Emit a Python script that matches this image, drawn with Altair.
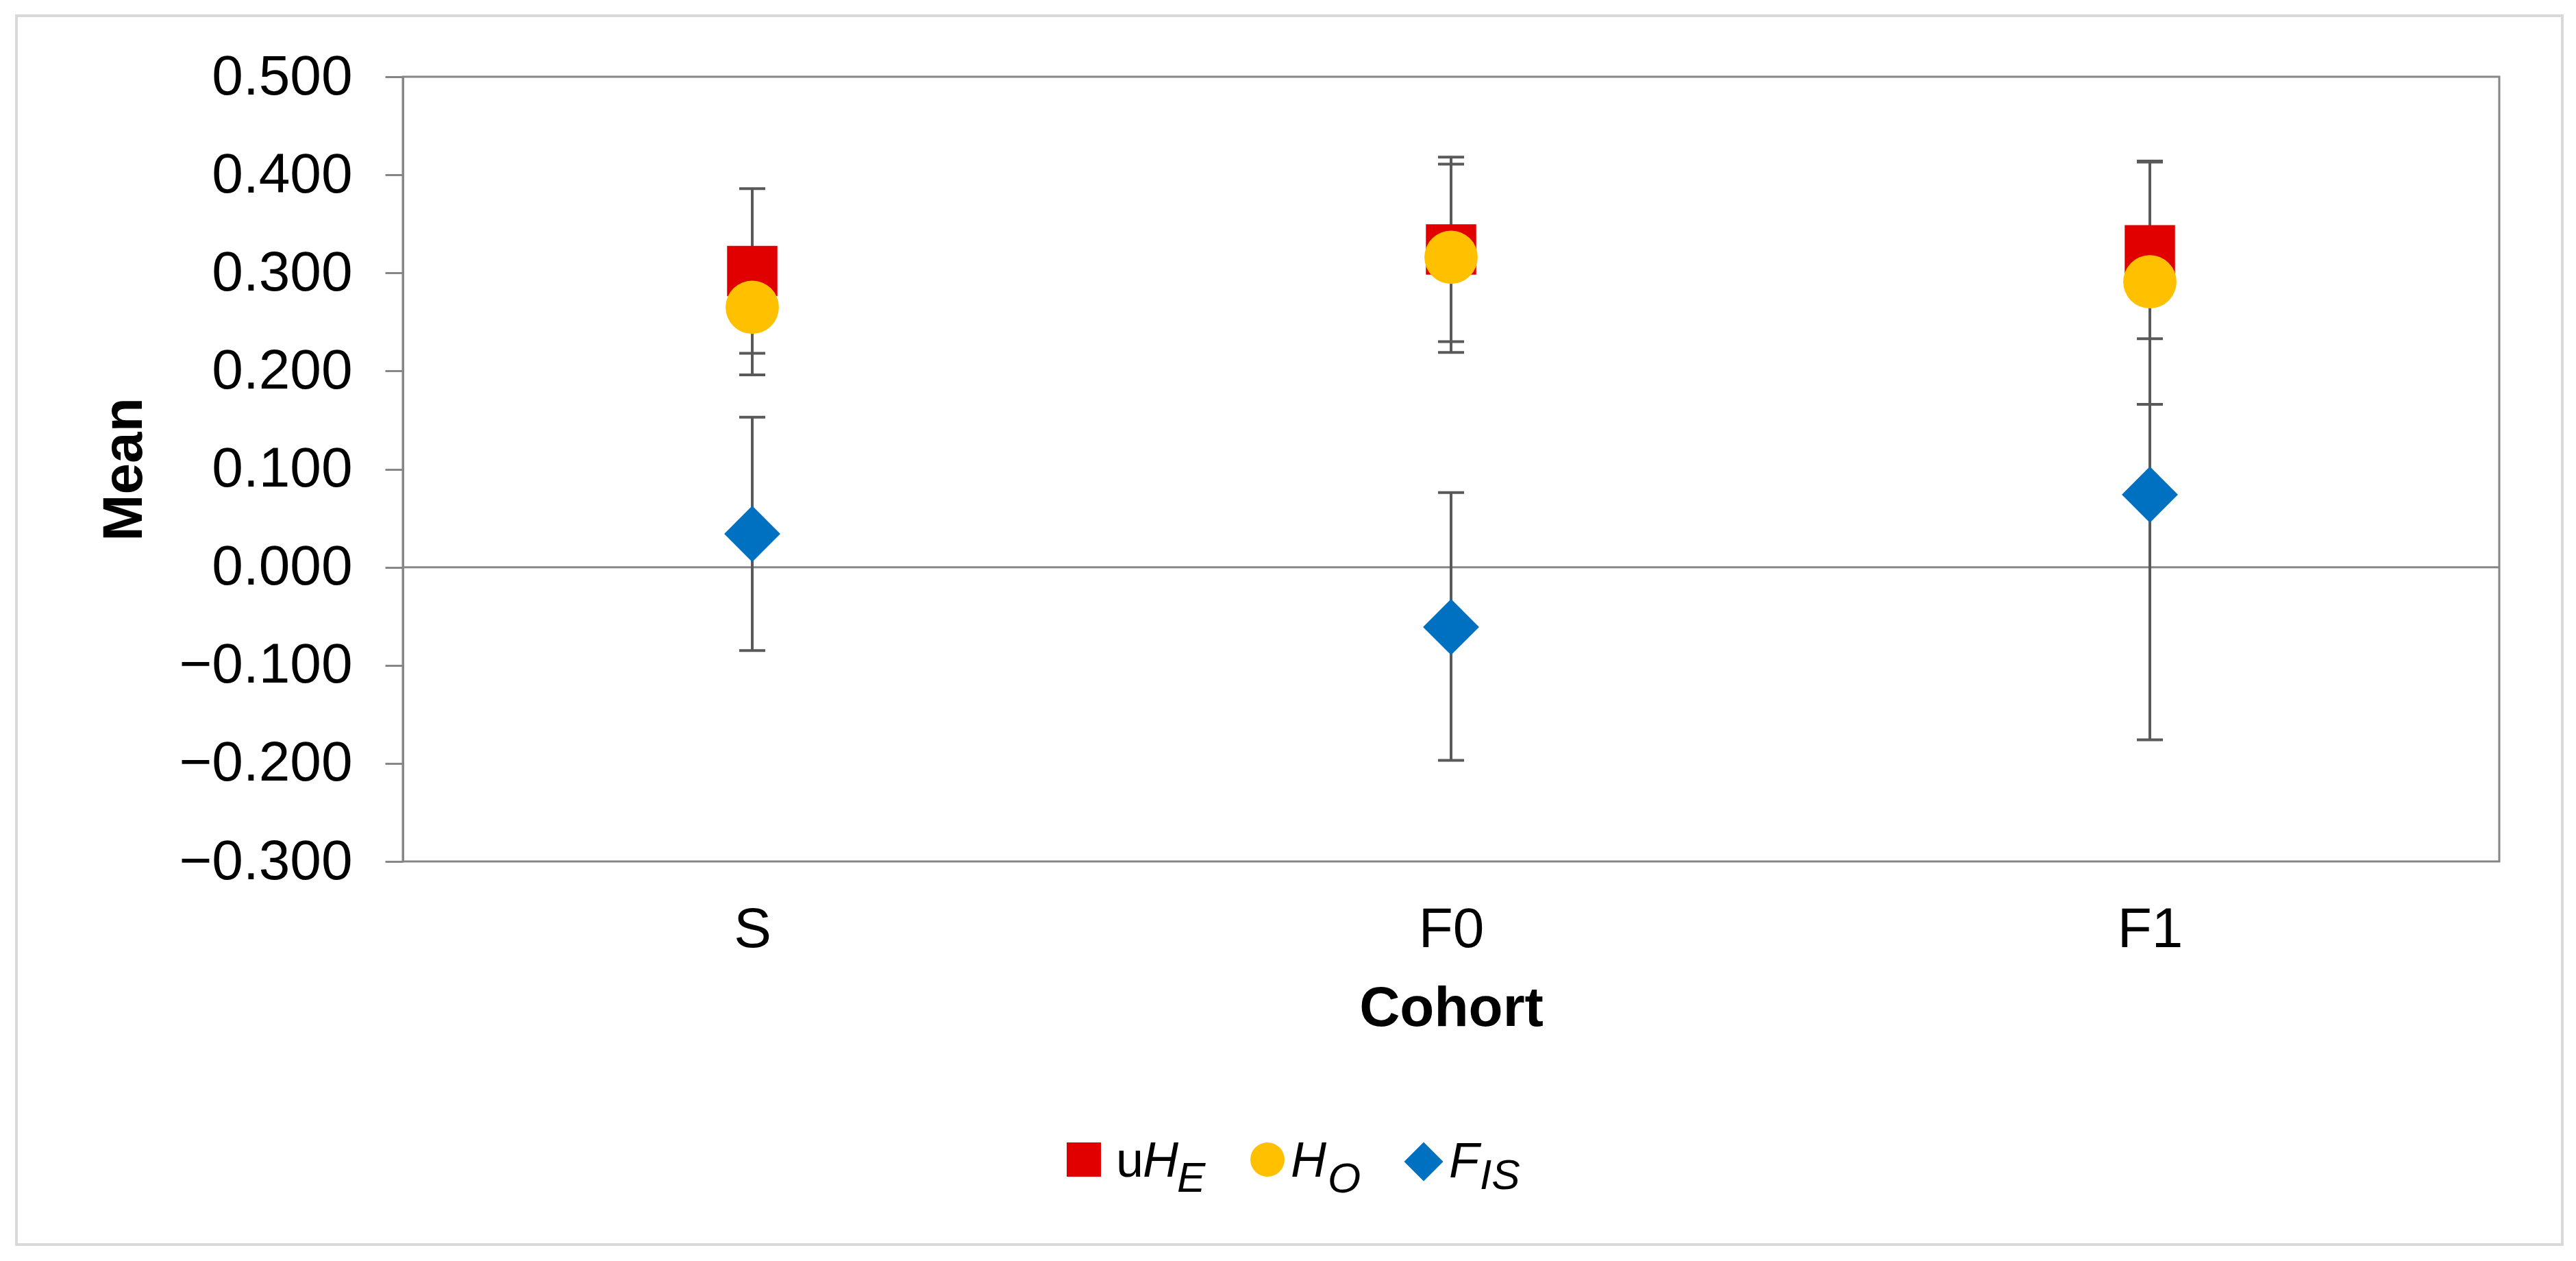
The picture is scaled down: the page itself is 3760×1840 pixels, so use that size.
import altair as alt
import pandas as pd

# ---- data ----
cohorts = ["S", "F0", "F1"]
series = ["uHE", "HO", "FIS"]
uHE_mean = [0.302, 0.324, 0.323]
uHE_lo = [0.218, 0.230, 0.233]
uHE_hi = [0.386, 0.418, 0.413]
HO_mean = [0.265, 0.316, 0.291]
HO_lo = [0.196, 0.219, 0.166]
HO_hi = [0.325, 0.411, 0.414]
FIS_mean = [0.034, -0.061, 0.074]
FIS_lo = [-0.085, -0.197, -0.176]
FIS_hi = [0.153, 0.076, 0.324]
y_ticks = [-0.3, -0.2, -0.1, 0.0, 0.1, 0.2, 0.3, 0.4, 0.5]

colors = ["#E00000", "#FFC000", "#0070C0"]
shapes = ["square", "circle", "diamond"]
sizes = [5400, 6700, 8800]

rows = []
for s, means, los, his in [("uHE", uHE_mean, uHE_lo, uHE_hi),
                           ("HO", HO_mean, HO_lo, HO_hi),
                           ("FIS", FIS_mean, FIS_lo, FIS_hi)]:
    for c, m, lo, hi in zip(cohorts, means, los, his):
        rows.append({"cohort": c, "series": s, "mean": m, "lo": lo, "hi": hi})
df = pd.DataFrame(rows)
zero_df = pd.DataFrame({"y": [0.0]})
one = pd.DataFrame({"k": [0]})

FONT = "Liberation Sans"
AX = "#868686"
EB = "#595959"
W, H = 3060, 1145

x_enc = alt.X("cohort:N", scale=alt.Scale(type="point", domain=cohorts, padding=0.5),
              axis=alt.Axis(title="Cohort", labelAngle=0, labelFont=FONT, labelFontSize=82,
                            labelColor="black", labelPadding=59, ticks=False, tickSize=0,
                            domain=False, titleFont=FONT, titleFontSize=82,
                            titleFontWeight="bold", titleColor="black", titlePadding=34))
y_scale = alt.Scale(domain=[-0.3, 0.5], nice=False, zero=False)
y_axis = alt.Axis(title="Mean", values=y_ticks, format=".3f", labelFont=FONT, labelFontSize=82,
                  labelColor="black", labelPadding=48, labelLimit=1000, tickSize=26, tickColor=AX,
                  tickWidth=3, domainColor=AX, domainWidth=3, grid=False, titleFont=FONT,
                  titleFontSize=82, titleFontWeight="bold", titleColor="black",
                  titleX=-365, titleAngle=270)

zero_line = alt.Chart(zero_df).mark_rule(color=AX, strokeWidth=3).encode(
    y=alt.Y("y:Q", scale=y_scale, axis=y_axis))

bars = alt.Chart(df).mark_rule(color=EB, strokeWidth=4).encode(
    x=x_enc, y=alt.Y("lo:Q", scale=y_scale, axis=y_axis), y2="hi:Q")
cap_lo = alt.Chart(df).mark_tick(color=EB, thickness=4, size=38, opacity=1).encode(
    x=x_enc, y=alt.Y("lo:Q", scale=y_scale, axis=y_axis))
cap_hi = alt.Chart(df).mark_tick(color=EB, thickness=4, size=38, opacity=1).encode(
    x=x_enc, y=alt.Y("hi:Q", scale=y_scale, axis=y_axis))

points = alt.Chart(df).mark_point(filled=True, opacity=1, strokeWidth=0).encode(
    x=x_enc,
    y=alt.Y("mean:Q", scale=y_scale, axis=y_axis),
    color=alt.Color("series:N", scale=alt.Scale(domain=series, range=colors), legend=None),
    shape=alt.Shape("series:N", scale=alt.Scale(domain=series, range=shapes), legend=None),
    size=alt.Size("series:N", scale=alt.Scale(domain=series, range=sizes), legend=None),
)

# ---- custom legend (mixed italic / subscript labels) ----
def sym(shape, color, size, x, y):
    return alt.Chart(one).mark_point(shape=shape, filled=True, opacity=1, strokeWidth=0,
                                     color=color, size=size).encode(x=alt.value(x), y=alt.value(y))

def txt(t, x, y, fs, style="normal"):
    return alt.Chart(one).mark_text(text=t, font=FONT, fontSize=fs, fontStyle=style,
                                    align="left", baseline="alphabetic", color="black").encode(
        x=alt.value(x), y=alt.value(y))

legend_layers = [
    sym("square", colors[0], 2500, 994, 1580),
    txt("u", 1041, 1605, 72),
    txt("H", 1080, 1605, 72, "italic"),
    txt("E", 1130, 1627, 62, "italic"),
    sym("circle", colors[1], 2500, 1262, 1580),
    txt("H", 1296, 1605, 72, "italic"),
    txt("O", 1350, 1628, 62, "italic"),
    sym("diamond", colors[2], 3250, 1490, 1583),
    txt("F", 1527, 1606, 72, "italic"),
    txt("IS", 1572, 1623, 62, "italic"),
]

frame = alt.Chart(one).mark_rect(fillOpacity=0, stroke="#d9d9d9", strokeWidth=4).encode(
    x=alt.value(-564), x2=alt.value(3152), y=alt.value(-89), y2=alt.value(1704))

chart = alt.layer(frame, zero_line, bars, cap_lo, cap_hi, points, *legend_layers).properties(
    width=W, height=H,
    background="white",
    autosize=alt.AutoSizeParams(type="none"),
    padding={"left": 580, "top": 104, "right": 100, "bottom": 575},
).configure_view(stroke=AX, strokeWidth=3)

chart.save("out.html", embed_options={"renderer": "svg", "actions": False})
